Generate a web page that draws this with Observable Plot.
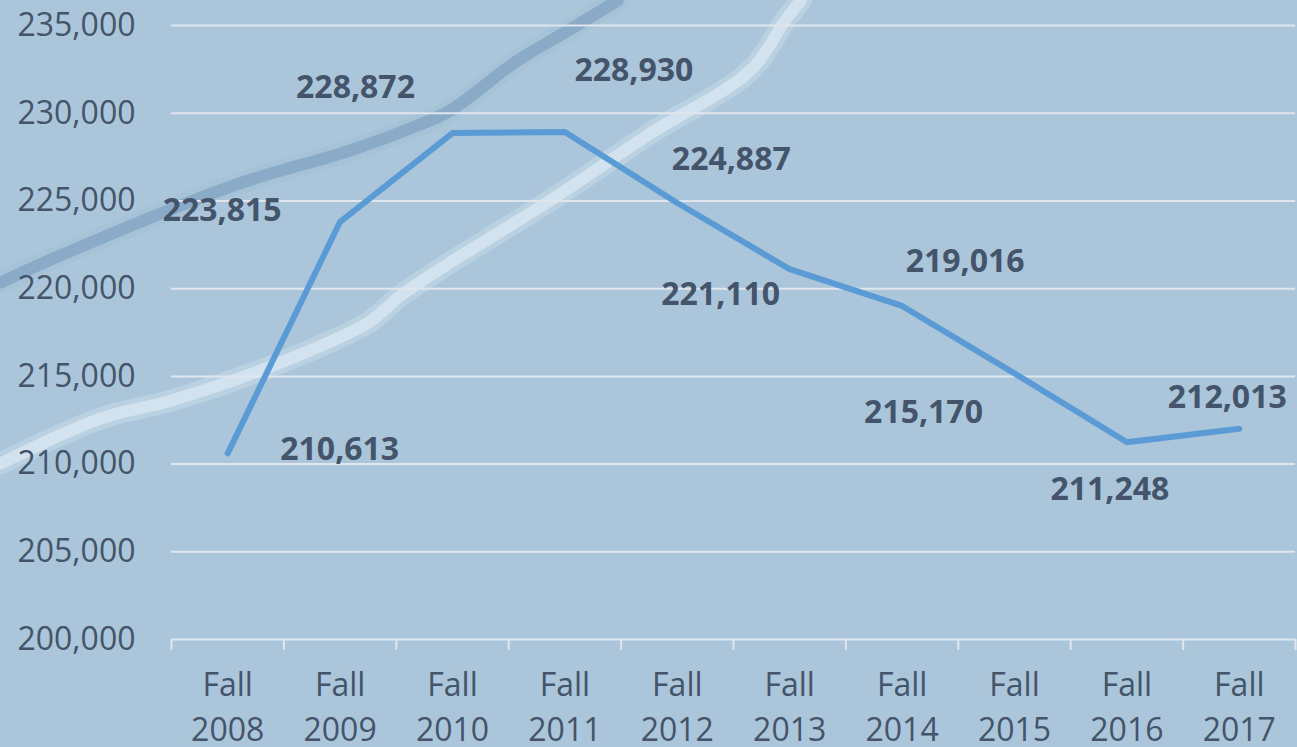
<!DOCTYPE html>
<html>
<head>
<meta charset="utf-8">
<script src="https://cdn.jsdelivr.net/npm/d3@7"></script>
<script src="https://cdn.jsdelivr.net/npm/@observablehq/plot@0.6"></script>
<style>
  html, body { margin: 0; padding: 0; background: #abc6da; overflow: hidden; }
  #chart svg { display: block; }
</style>
</head>
<body>
<div id="chart"></div>
<script>
// ---- Data ----
const terms = ["Fall 2008", "Fall 2009", "Fall 2010", "Fall 2011", "Fall 2012",
               "Fall 2013", "Fall 2014", "Fall 2015", "Fall 2016", "Fall 2017"];
const enrollment = [210613, 223815, 228872, 228930, 224887, 221110, 219016, 215170, 211248, 212013];
const yTicks = [200000, 205000, 210000, 215000, 220000, 225000, 230000, 235000];

// label placement offsets (pixels) for each data label
const labelDx = [112, -118, -97, 69, 54, -69, 63, -91, -17, -12];
const labelDy = [-4, -11, -45, -61, -43, 26, -44, 39, 48, -31];

// decorative background swooshes (in data space: category index, value)
const swooshDarkX = [-2.02, -1.49, 0.05, 1.09, 1.69, 1.98, 2.58, 3.03, 3.47];
const swooshDarkY = [220350, 221890, 225880, 227880, 229300, 230160, 233010, 234720, 236430];
const swooshLightX = [-2.02, -1.13, -0.5, 0.36, 1.25, 1.54, 1.98, 2.87, 3.76, 4.65, 4.96, 5.1];
const swooshLightY = [210030, 212600, 213630, 215510, 218070, 219610, 221490, 225030, 228850, 232440, 235290, 236430];

// ---- Build ----
const idx = d3.range(terms.length);
const fmt = d3.format(",");
const ink = "#44546a";
const darkPts = swooshDarkX.map((x, i) => ({x, y: swooshDarkY[i]}));
const lightPts = swooshLightX.map((x, i) => ({x, y: swooshLightY[i]}));

const labelMarks = idx.map(i => Plot.text([i], {
  x: d => d, y: d => enrollment[d], text: d => fmt(enrollment[d]),
  dx: labelDx[i], dy: labelDy[i],
  fontWeight: 700, fontSize: 32, fill: ink
}));

const chart = Plot.plot({
  width: 1297,
  height: 747,
  marginLeft: 171,
  marginRight: 2,
  marginTop: 0,
  marginBottom: 108,
  style: { fontFamily: "'Open Sans', sans-serif", background: "#abc6da", color: ink, overflow: "visible" },
  x: { type: "linear", domain: [-0.5, terms.length - 0.5], axis: null },
  y: { domain: [200000, 236430], axis: null },
  marks: [
    Plot.line(darkPts, { x: "x", y: "y", curve: "catmull-rom", stroke: "#a2bfd6", strokeWidth: 22, strokeOpacity: 0.6 }),
    Plot.line(darkPts, { x: "x", y: "y", curve: "catmull-rom", stroke: "#86a8c5", strokeWidth: 12, strokeOpacity: 0.9 }),
    Plot.line(lightPts, { x: "x", y: "y", curve: "catmull-rom", stroke: "#c4d8e7", strokeWidth: 22, strokeOpacity: 0.6 }),
    Plot.line(lightPts, { x: "x", y: "y", curve: "catmull-rom", stroke: "#d3e3ef", strokeWidth: 12, strokeOpacity: 0.95 }),
    Plot.ruleY(yTicks, { stroke: "#e0e6ed", strokeWidth: 2 }),
    Plot.axisY(yTicks, { tickSize: 0, tickPadding: 36, tickFormat: fmt, fontSize: 32, fill: ink, label: null }),
    Plot.axisX(d3.range(terms.length + 1).map(i => i - 0.5), { tickSize: 11, tickFormat: () => "", stroke: "#e0e6ed", strokeWidth: 2, label: null }),
    Plot.axisX(idx, { tickSize: 0, tickPadding: 24, tickFormat: i => terms[i].replace(" ", "\n"), fontSize: 32, lineHeight: 1.42, fill: ink, label: null }),
    Plot.lineY(enrollment, { x: (d, i) => i, y: d => d, stroke: "#5b9bd5", strokeWidth: 6, strokeLinecap: "round", strokeLinejoin: "round" }),
    ...labelMarks
  ]
});
document.getElementById("chart").append(chart);
</script>
</body>
</html>
